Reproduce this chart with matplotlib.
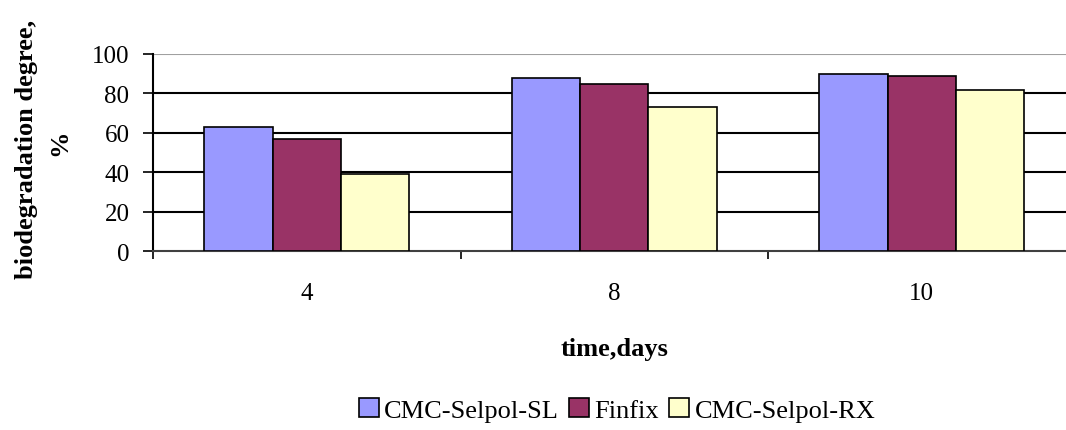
import matplotlib
matplotlib.use("Agg")
import matplotlib.pyplot as plt
import numpy as np

categories = ["4", "8", "10"]
series_names = ["CMC-Selpol-SL", "Finfix", "CMC-Selpol-RX"]
sl_values = [63, 88, 90]
finfix_values = [57, 85, 89]
rx_values = [39, 73, 82]
colors = ["#9999FF", "#993366", "#FFFFCC"]
yticks = [0, 20, 40, 60, 80, 100]

plt.rcParams['font.family'] = ['Liberation Serif', 'DejaVu Serif']

W, H = 1066, 431
fig = plt.figure(figsize=(W / 100, H / 100), dpi=100)
left, right, top, bottom = 153, 1075.5, 55, 252.3
ax = fig.add_axes([left / W, 1 - bottom / H, (right - left) / W, (bottom - top) / H])

x = np.arange(len(categories))
bw = 1 / 4.5
for i, (vals, c, name) in enumerate(zip([sl_values, finfix_values, rx_values], colors, series_names)):
    ax.bar(x + (i - 1) * bw, vals, width=bw, color=c, edgecolor="black", linewidth=1.2,
           label=name, zorder=3)

ax.set_xlim(-0.5, 2.5)
ax.set_ylim(0, 100)
ax.set_yticks(yticks)
ax.set_yticklabels([str(v) for v in yticks], fontsize=18)
for v in yticks[1:-1]:
    ax.axhline(v, color="black", linewidth=1.5, zorder=1)
ax.axhline(100, color="#a0a0a0", linewidth=1.5, zorder=1)

ax.set_xticks(x)
ax.set_xticklabels(categories, fontsize=18)
ax.set_xticks(np.arange(-0.5, 3.0, 1.0), minor=True)
ax.tick_params(axis="x", which="major", length=0, pad=22)
ax.tick_params(axis="x", which="minor", length=6, width=1.2, direction="out", color="black")
ax.tick_params(axis="y", length=7, width=1.2, direction="out", pad=10, color="black")

for s in ["top", "right"]:
    ax.spines[s].set_visible(False)
ax.spines["left"].set_linewidth(1.5)
ax.spines["bottom"].set_linewidth(1.5)
ax.spines["bottom"].set_color("#404040")

ax.set_xlabel("time,days", fontsize=19, fontweight="bold", labelpad=24)

fig.text(27 / W, 1 - 149 / H, "biodegradation degree,", rotation=90, fontsize=19,
         fontweight="bold", ha="center", va="center")
fig.text(60 / W, 1 - 143 / H, "%", rotation=90, fontsize=19,
         fontweight="bold", ha="center", va="center")

leg = fig.legend(loc="center", bbox_to_anchor=(617 / W, 1 - 411 / H), ncol=3, frameon=False,
                 fontsize=19, handlelength=0.75, handleheight=0.75, handletextpad=0.2,
                 columnspacing=0.4)

fig.savefig("out.png", dpi=100)
